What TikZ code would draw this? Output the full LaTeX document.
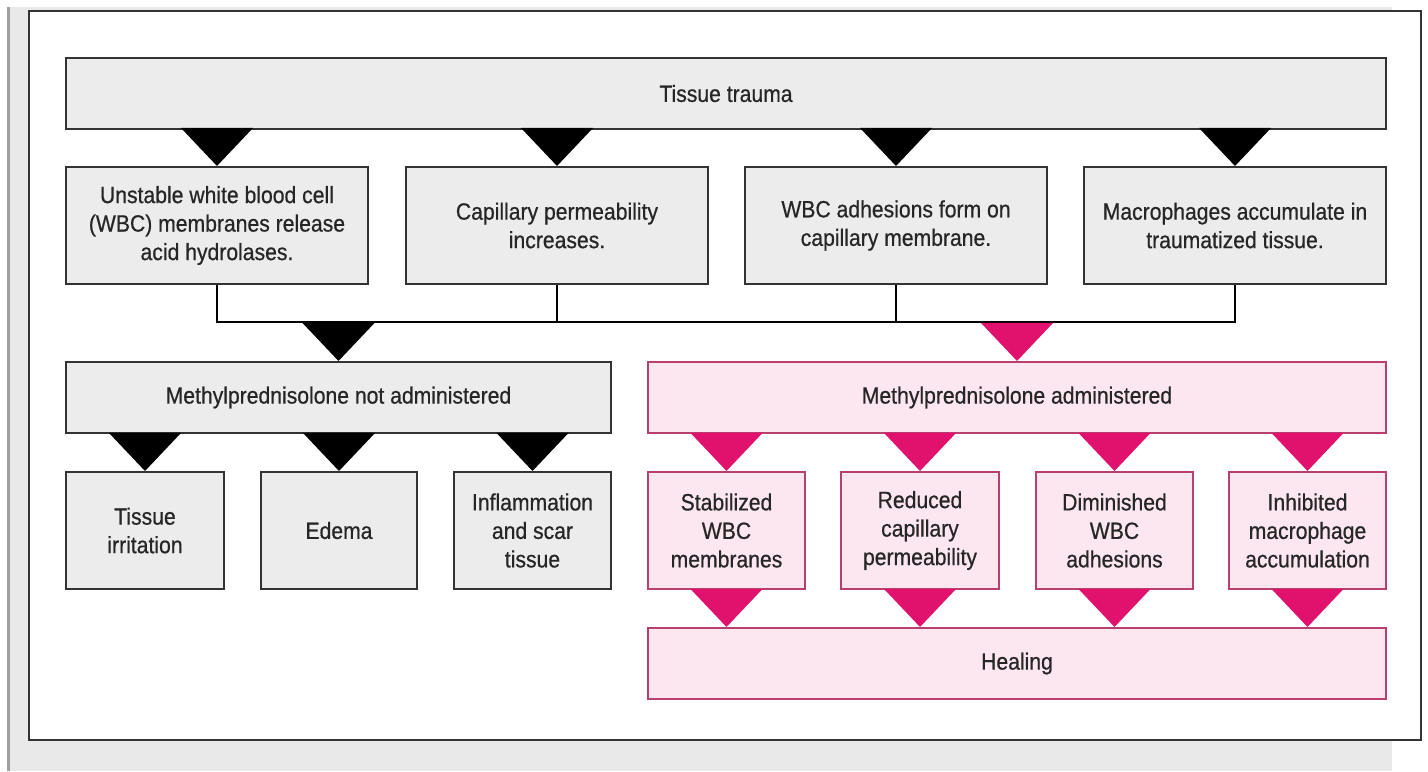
\documentclass[tikz,border=0pt]{standalone}
\usepackage{fontspec}
\setmainfont{Liberation Sans}[FakeStretch=0.9, FakeBold=0.6]
\definecolor{panel}{HTML}{E9E9E9}
\definecolor{boxfill}{HTML}{ECECEC}
\definecolor{boxline}{HTML}{333333}
\definecolor{pinkfill}{HTML}{FCE6EF}
\definecolor{pinkline}{HTML}{B8406E}
\definecolor{pinktip}{HTML}{E0126E}
\tikzset{
  box/.style={draw=boxline, fill=boxfill, line width=1pt, align=center, inner sep=0pt,
    anchor=north west, text=black!85, font=\fontsize{11.75pt}{14.25pt}\selectfont},
  pbox/.style={box, draw=pinkline, fill=pinkfill},
  sz/.style 2 args={minimum width=#1*0.5pt, minimum height=#2*0.5pt},
  pics/wedge/.style={code={\fill[#1] (0,0) -- (-36,38) -- (36,38) -- cycle;}}
}
\begin{document}
\begin{tikzpicture}[x=0.5pt, y=0.5pt]
  \useasboundingbox (0,0) rectangle (1428,771);
  \fill[panel] (7,0) rectangle (1392,764);
  \draw[gray!75, line width=1.5pt] (8,0) -- (8,764);
  \draw[boxline, line width=1pt, fill=white] (29,31) rectangle (1421,760);

  \node[box, sz={1320}{71}] (trauma) at (65,714) {Tissue trauma};
  \node[box, sz={302}{117}] (wbc) at (65,605) {Unstable white blood cell\\(WBC) membranes release\\acid hydrolases.};
  \node[box, sz={302}{117}] (cap) at (405,605) {Capillary permeability\\increases.};
  \node[box, sz={302}{117}] (adh) at (744,605) {WBC adhesions form on\\capillary membrane.};
  \node[box, sz={302}{117}] (mac) at (1083,605) {Macrophages accumulate in\\traumatized tissue.};
  \coordinate (join) at (0,449);

  \node[box, sz={545}{71}] (noadm) at (65,410) {Methylprednisolone not administered};
  \node[pbox, sz={738}{71}] (adm) at (647,410) {Methylprednisolone administered};

  \node[box, sz={158}{117}] (irr) at (65,300) {Tissue\\irritation};
  \node[box, sz={156}{117}] (edema) at (260,300) {Edema};
  \node[box, sz={157}{117}] (scar) at (453,300) {Inflammation\\and scar\\tissue};

  \node[pbox, sz={157}{117}] (stab) at (647,300) {Stabilized\\WBC\\membranes};
  \node[pbox, sz={158}{117}] (red) at (840,300) {Reduced\\capillary\\permeability};
  \node[pbox, sz={157}{117}] (dim) at (1035,300) {Diminished\\WBC\\adhesions};
  \node[pbox, sz={157}{117}] (inh) at (1228,300) {Inhibited\\macrophage\\accumulation};
  \node[pbox, sz={738}{71}] (heal) at (647,144) {Healing};

  \draw[line width=1pt] (wbc.south) |- (mac.south |- join) -- (mac.south);
  \draw[line width=1pt] (cap.south) -- (cap.south |- join);
  \draw[line width=1pt] (adh.south) -- (adh.south |- join);

  \foreach \n in {wbc,cap,adh,mac,noadm,irr,edema,scar}
    \pic at (\n.north) {wedge=black};
  \foreach \n in {adm,stab,red,dim,inh}
    \pic at (\n.north) {wedge=pinktip};
  \foreach \n in {stab,red,dim,inh}
    \pic at (\n.south |- heal.north) {wedge=pinktip};
\end{tikzpicture}
\end{document}
